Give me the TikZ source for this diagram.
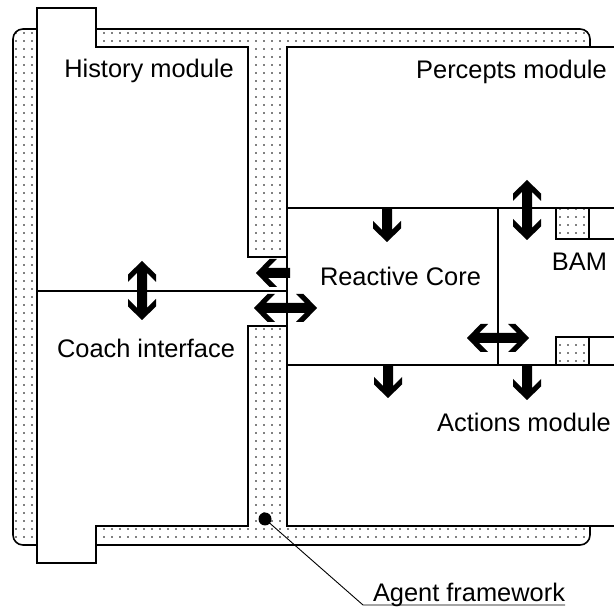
\documentclass[tikz,border=0pt]{standalone}
\usepackage{fontspec}
\setmainfont{Liberation Sans}
\usetikzlibrary{patterns.meta}
\tikzset{
  dotfill/.style={pattern={Dots[distance=8pt,radius=0.9pt]},pattern color=black},
  outline/.style={line width=1.6pt,line join=miter},
  innerline/.style={line width=1.1pt},
  lbl/.style={font=\fontsize{25.4}{30}\selectfont, inner sep=0pt, anchor=base},
  sarrow/.pic={\fill (0,0) -- (-13.5,-14) -- (-21,-14) -- (-12,-5) -- (-#1,-5) -- (-#1,5) -- (-12,5) -- (-21,14) -- (-13.5,14) -- cycle;},
  darrow/.pic={\fill (0,0) -- (-13.5,-14) -- (-21,-14) -- (-12,-5) -- ({-#1+12},-5) -- ({-#1+21},-14) -- ({-#1+13.5},-14) -- (-#1,0) -- ({-#1+13.5},14) -- ({-#1+21},14) -- ({-#1+12},5) -- (-12,5) -- (-21,14) -- (-13.5,14) -- cycle;}
}
\begin{document}
\begin{tikzpicture}[x=1pt,y=-1pt]
\useasboundingbox (0,0) rectangle (614,609);
\fill[white] (0,0) rectangle (614,609);
% agent framework (dotted frame)
\fill[dotfill] (13,29) [rounded corners=10pt] -- (590,29) -- (590,545) -- (13,545) -- cycle;
\draw[outline,rounded corners=10pt] (13,29) -- (590,29) -- (590,545) -- (13,545) -- cycle;
% history / coach module
\filldraw[outline,fill=white] (37,8) -- (96,8) -- (96,47) -- (248,47) -- (248,257) -- (287,257) -- (287,326) -- (248,326) -- (248,526) -- (96,526) -- (96,563) -- (37,563) -- cycle;
\draw[innerline] (37,291) -- (287,291);
% right part: percepts / reactive core / BAM / actions
\fill[white] (287,47) rectangle (620,526);
\draw[outline] (620,47) -- (287,47) -- (287,526) -- (620,526);
\draw[innerline] (287,208) -- (620,208);
\draw[innerline] (287,365) -- (620,365);
\draw[innerline] (498,208) -- (498,365);
% BAM boxes
\fill[dotfill] (556,208) rectangle (589,239);
\draw[innerline] (620,239) -- (556,239) -- (556,208) (589,208) -- (589,239);
\fill[dotfill] (556,337) rectangle (589,365);
\draw[innerline] (620,337) -- (556,337) -- (556,365) (589,337) -- (589,365);
% labels
\node[lbl] (history) at (149,78) {History module};
\node[lbl] (percepts) at (511.5,79) {Percepts module};
\node[lbl] (core) at (400.5,286) {Reactive Core};
\node[lbl] (bam) at (579.5,271) {BAM};
\node[lbl] (coach) at (146,358) {Coach interface};
\node[lbl] (actions) at (524,432) {Actions module};
\node[lbl] (agent) at (469,602) {Agent framework};
% leader
\node[circle,fill=black,inner sep=0pt,minimum size=13pt] (dot) at (265,519) {};
\coordinate (lead) at (363,605);
\draw[line width=0.9pt] (dot.center) -- (lead) -- (lead -| agent.east);
% block arrows
\pic[rotate=90] at (142,261) {darrow=59};
\pic[rotate=180] at (256,273) {sarrow=34};
\pic at (317,308) {darrow=63};
\pic[rotate=-90] at (387,242) {sarrow=34};
\pic[rotate=90] at (527,180) {darrow=60};
\pic at (529,338) {darrow=62};
\pic[rotate=-90] at (388,398) {sarrow=33};
\pic[rotate=-90] at (527,400) {sarrow=35};
\end{tikzpicture}
\end{document}
